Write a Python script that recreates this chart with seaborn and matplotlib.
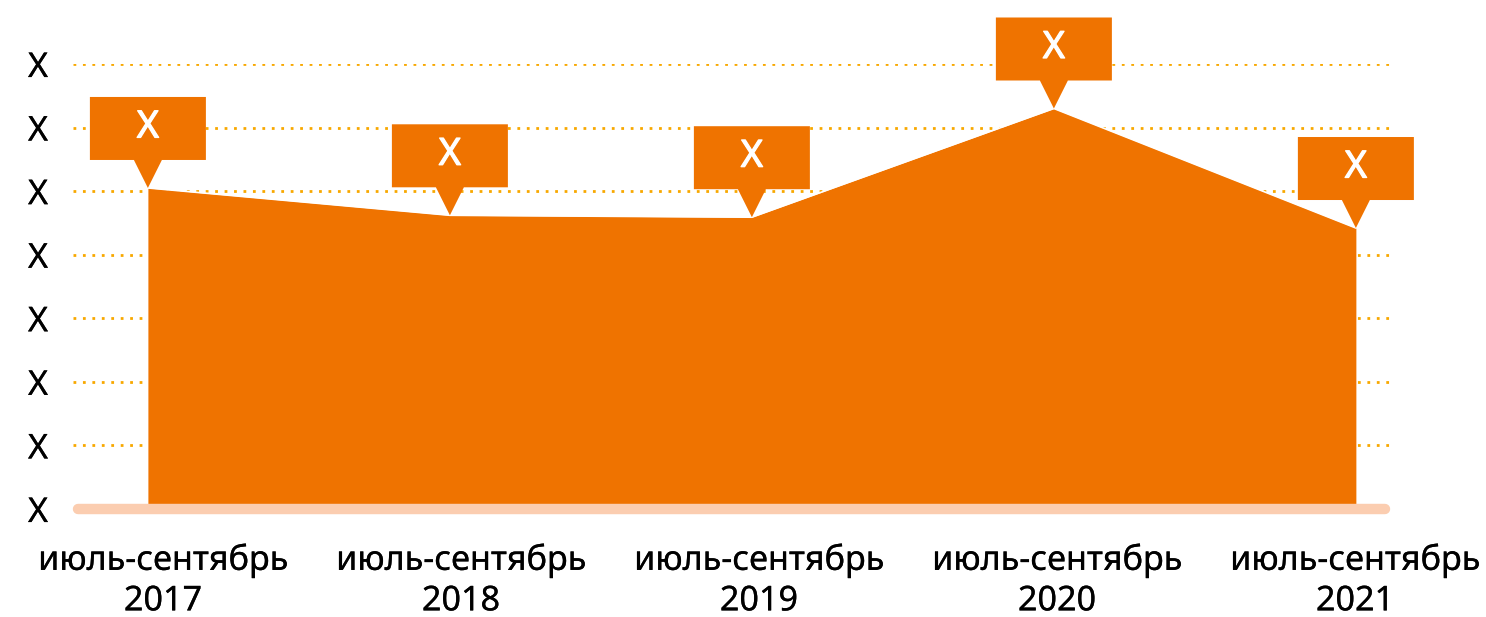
import numpy as np
import pandas as pd
import matplotlib
matplotlib.use("Agg")
import matplotlib.pyplot as plt
import matplotlib.transforms as mtransforms
import matplotlib.patheffects as pe
from matplotlib.patches import Polygon
import seaborn as sns

# ---- data ----
periods = ["июль-сентябрь\n2017", "июль-сентябрь\n2018", "июль-сентябрь\n2019",
           "июль-сентябрь\n2020", "июль-сентябрь\n2021"]
values = [5.05, 4.62, 4.59, 6.30, 4.42]
point_labels = ["X", "X", "X", "X", "X"]
y_ticks = [0, 1, 2, 3, 4, 5, 6, 7]
y_tick_labels = ["X", "X", "X", "X", "X", "X", "X", "X"]

ORANGE = "#EF7300"
GRID = "#F8A800"
BASE = "#FBCDB0"

sns.set_theme(style="white")
plt.rcParams["font.family"] = ["Noto Sans", "DejaVu Sans"]

W, H = 1486, 617
fig = plt.figure(figsize=(W / 100, H / 100), dpi=100)
ax = fig.add_axes([73 / W, (H - 509) / H, (1390 - 73) / W, (509 - 64) / H])

df = pd.DataFrame({"x": np.arange(len(values)), "v": values, "p": periods})

ax.set_xlim(-0.248, 4.113)
ax.set_ylim(0, 7)

# grid lines
for yv in y_ticks[1:]:
    ax.axhline(yv, color=GRID, lw=2.0, linestyle=(0, (1, 2.4)), zorder=1)

# area
ax.fill_between(df["x"], 0, df["v"], color=ORANGE, lw=0, zorder=2)
sns.lineplot(data=df, x="x", y="v", color="white", lw=1.2, ax=ax, zorder=3)

# baseline
ax.plot([-0.23, 4.095], [0, 0], color=BASE, lw=7.5, solid_capstyle="round",
        zorder=4, clip_on=False)

# callouts
for xi, v, lab in zip(df["x"], df["v"], point_labels):
    trans = fig.dpi_scale_trans + mtransforms.ScaledTranslation(xi, v, ax.transData)
    verts = np.array([[0, 0], [14, 28], [58, 28], [58, 91], [-58, 91],
                      [-58, 28], [-14, 28]]) / 100.0
    poly = Polygon(verts, closed=True, facecolor=ORANGE, edgecolor="none",
                   transform=trans, clip_on=False, zorder=5)
    ax.add_patch(poly)
    ax.text(0, 0.605, lab, transform=trans, color="white", fontsize=27,
            ha="center", va="center", zorder=6, clip_on=False,
            path_effects=[pe.withStroke(linewidth=0.9, foreground="white")])

# category labels sit on a slightly narrower, evenly spaced grid than the points
ax.set_xticks(df["x"] * 0.9868 + 0.0497)
ax.set_xticklabels(periods, fontsize=24.6, linespacing=1.25)
ax.set_yticks(y_ticks)
ax.set_yticklabels(y_tick_labels, fontsize=24.6)
ax.tick_params(axis="x", length=0, pad=24, colors="black")
ax.tick_params(axis="y", length=0, pad=18, colors="black")
for lab in ax.get_xticklabels() + ax.get_yticklabels():
    lab.set_path_effects([pe.withStroke(linewidth=0.15, foreground="black")])
for lab in ax.get_xticklabels():
    lab.set_ha("center")
ax.set_xlabel("")
ax.set_ylabel("")
for s in ax.spines.values():
    s.set_visible(False)
ax.grid(False)

fig.savefig("out.png", dpi=100, facecolor="white")
